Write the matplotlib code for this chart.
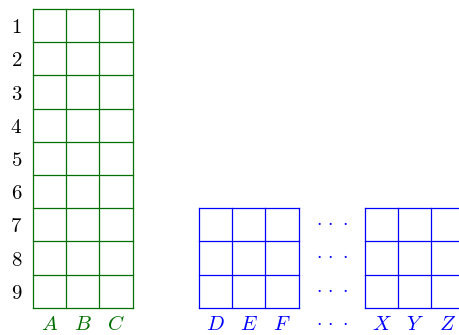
import matplotlib.pyplot as plt

plt.rcParams['mathtext.fontset'] = 'cm'

row_labels = ['1', '2', '3', '4', '5', '6', '7', '8', '9']
green_cols = ['A', 'B', 'C']
blue_cols_1 = ['D', 'E', 'F']
blue_cols_2 = ['X', 'Y', 'Z']

GREEN = '#007000'
BLUE = '#0000ff'
FS = 15


def draw_grid(ax, x0, y0, ncols, nrows, color):
    for i in range(ncols + 1):
        ax.plot([x0 + i, x0 + i], [y0, y0 + nrows], color=color, lw=0.9)
    for j in range(nrows + 1):
        ax.plot([x0, x0 + ncols], [y0 + j, y0 + j], color=color, lw=0.9)


def col_labels(ax, x0, labels, y, color):
    for i, lab in enumerate(labels):
        ax.text(x0 + i + 0.5, y, '$%s$' % lab, color=color, fontsize=FS,
                ha='center', va='center')


fig = plt.figure(figsize=(4.59, 3.35), dpi=100)
ax = fig.add_axes([0, 0, 1, 1])
ax.set_xlim(-0.994, 12.83)
ax.set_ylim(9.82, -0.27)
ax.axis('off')

nrows = len(row_labels)
draw_grid(ax, 0, 0, len(green_cols), nrows, GREEN)
draw_grid(ax, 5, nrows - 3, len(blue_cols_1), 3, BLUE)
draw_grid(ax, 10, nrows - 3, len(blue_cols_2), 3, BLUE)

for j, lab in enumerate(row_labels):
    ax.text(-0.5, j + 0.55, '$%s$' % lab, fontsize=FS, ha='center', va='center')

label_y = nrows + 0.5
col_labels(ax, 0, green_cols, label_y, GREEN)
col_labels(ax, 5, blue_cols_1, label_y, BLUE)
col_labels(ax, 10, blue_cols_2, label_y, BLUE)

for y in [nrows - 2.5, nrows - 1.5, nrows - 0.5, label_y]:
    ax.text(9, y - 0.09, r'$\cdot\,\cdot\,\cdot$', color=BLUE, fontsize=14,
            ha='center', va='center')

fig.savefig('out.png', dpi=100)
